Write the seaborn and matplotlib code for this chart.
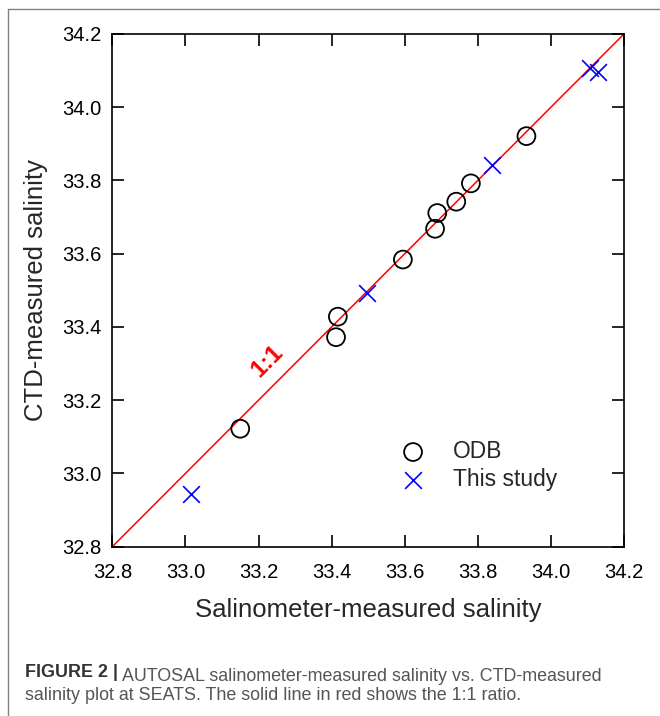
import matplotlib
matplotlib.use("Agg")
import matplotlib.pyplot as plt
from matplotlib.lines import Line2D
import numpy as np
import pandas as pd
import seaborn as sns

# Salinity pairs: salinometer (x) vs CTD (y)
odb_salinometer = [33.150, 33.412, 33.417, 33.595, 33.683, 33.689, 33.741, 33.781, 33.933]
odb_ctd = [33.122, 33.372, 33.428, 33.584, 33.668, 33.711, 33.742, 33.792, 33.921]

study_salinometer = [33.015, 33.497, 33.838, 34.108, 34.128]
study_ctd = [32.944, 33.493, 33.843, 34.106, 34.096]

ratio_line = [32.8, 34.2]
tick_values = [32.8, 33.0, 33.2, 33.4, 33.6, 33.8, 34.0, 34.2]
tick_labels = ["32.8", "33.0", "33.2", "33.4", "33.6", "33.8", "34.0", "34.2"]

odb = pd.DataFrame({"salinometer": odb_salinometer, "ctd": odb_ctd})
study = pd.DataFrame({"salinometer": study_salinometer, "ctd": study_ctd})

sns.set_theme(style="ticks")
plt.rcParams["font.family"] = ["Liberation Sans", "DejaVu Sans"]

fig = plt.figure(figsize=(6.6, 7.16), dpi=100)
ax = fig.add_axes([0.1702, 0.2365, 0.7753, 0.7161])

# 1:1 reference line
sns.lineplot(x=ratio_line, y=ratio_line, color="#ff0000", linewidth=1.1, ax=ax,
             zorder=1)

sns.scatterplot(data=odb, x="salinometer", y="ctd", marker="o", s=165,
                facecolor="none", edgecolor="black", linewidth=1.3,
                label="ODB", ax=ax, zorder=3)
sns.scatterplot(data=study, x="salinometer", y="ctd", marker="x", s=145,
                color="#0000ff", linewidth=1.2, label="This study", ax=ax,
                zorder=3)

ax.text(33.224, 33.307, "1:1", color="#ff0000", fontsize=17.5, fontweight="bold",
        rotation=45, rotation_mode="anchor", ha="center", va="center")

ax.set_xlim(ratio_line)
ax.set_ylim(ratio_line)
ax.set_xticks(tick_values, tick_labels)
ax.set_yticks(tick_values, tick_labels)
ax.tick_params(direction="in", length=8.5, width=1.2, top=True, right=True,
               labelsize=14.5, colors="black")
ax.tick_params(axis="x", pad=11.5)
ax.tick_params(axis="y", pad=8)
for side in ax.spines.values():
    side.set_linewidth(1.2)
    side.set_color("black")

ax.set_xlabel("Salinometer-measured salinity", fontsize=18.5, labelpad=12)
ax.set_ylabel("CTD-measured salinity", fontsize=18.5, labelpad=10)

ax.legend(loc="upper left", bbox_to_anchor=(0.5654, 0.208), frameon=False,
          fontsize=16.4, handlelength=1.0, handletextpad=1.27,
          labelspacing=0.21, borderpad=0, borderaxespad=0)

# Figure panel border (left and top edges)
fig.add_artist(Line2D([8 / 660, 8 / 660], [0, 1 - 9 / 716],
                      transform=fig.transFigure, color="#808080", lw=1))
fig.add_artist(Line2D([8 / 660, 1], [1 - 9 / 716, 1 - 9 / 716],
                      transform=fig.transFigure, color="#808080", lw=1))

# Caption
cap1 = fig.text(25 / 660, 1 - 676.7 / 716, "FIGURE 2 |", fontsize=12.9,
                fontweight="bold", color="#333333")
ax.annotate(" AUTOSAL salinometer-measured salinity vs. CTD-measured",
            xy=(1, 0), xycoords=cap1, va="baseline", ha="left",
            fontsize=12.9, color="#555555", annotation_clip=False)
fig.text(25 / 660, 1 - 700 / 716,
         "salinity plot at SEATS. The solid line in red shows the 1:1 ratio.",
         fontsize=12.9, color="#555555")

fig.savefig("out.png", dpi=100)
